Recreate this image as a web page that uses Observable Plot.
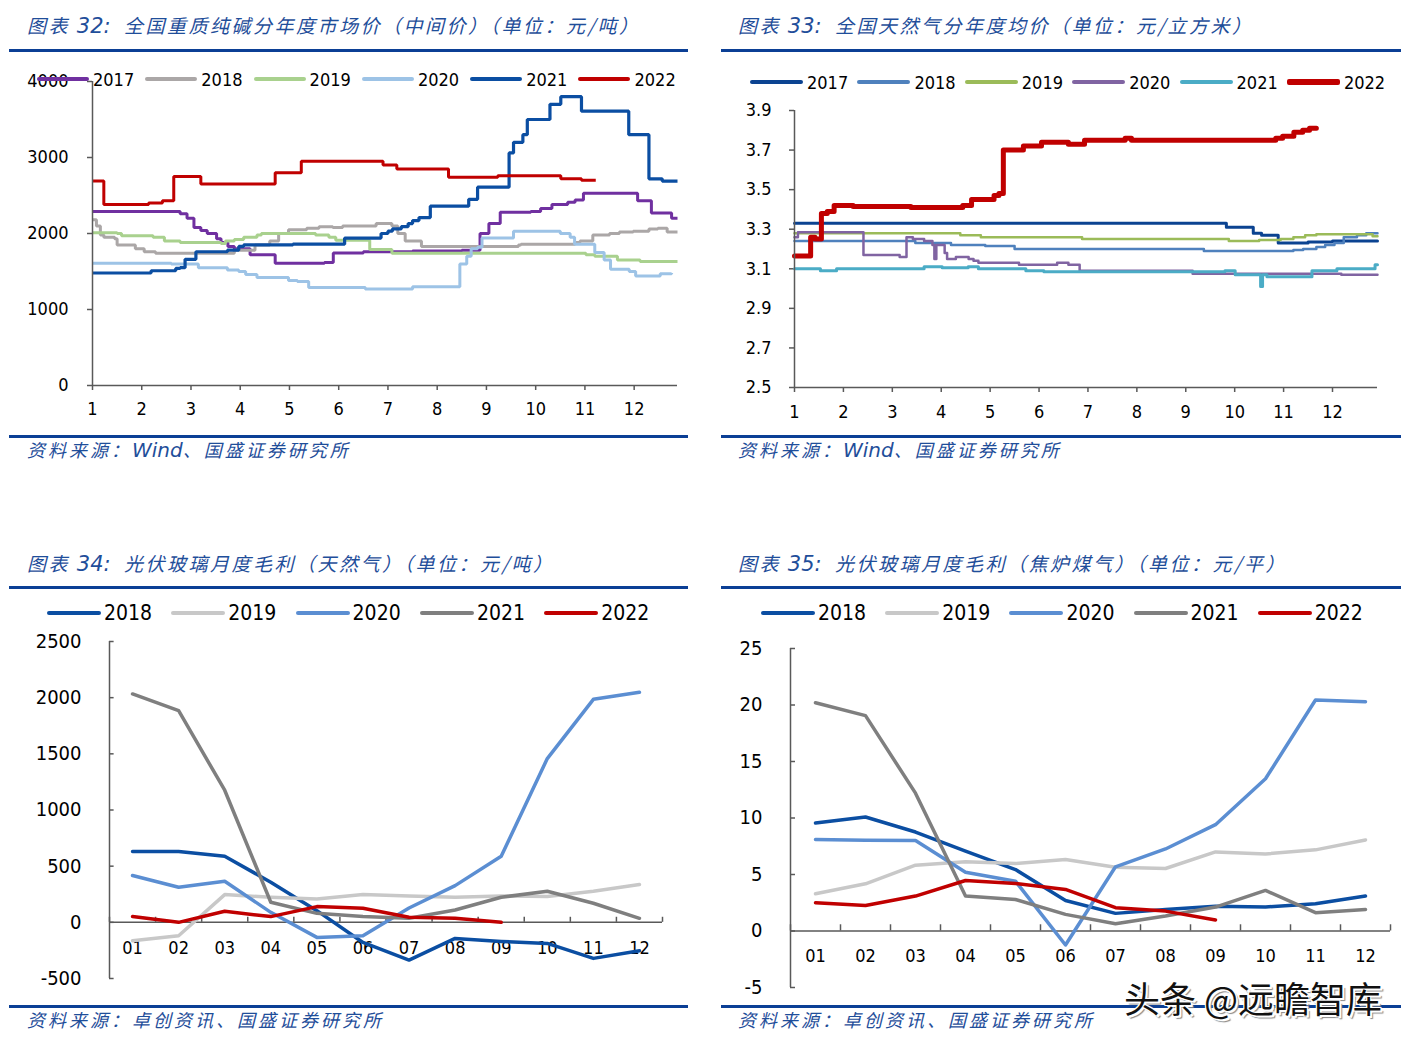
<!DOCTYPE html>
<html>
<head>
<meta charset="utf-8">
<script src="https://cdn.jsdelivr.net/npm/d3@7"></script>
<script src="https://cdn.jsdelivr.net/npm/@observablehq/plot@0.6"></script>
<style>
  body { margin: 0; background: #fff; }
  #page { position: relative; width: 1414px; height: 1045px; overflow: hidden; background: #fff; }
  .title { position: absolute; font-family: "Noto Sans CJK SC", sans-serif; font-style: italic; color: #1F4E9A;
           font-size: 19px; letter-spacing: 2.5px; white-space: pre; line-height: 1; }
  .title .num { font-family: "DejaVu Sans", sans-serif; font-size: 21px; letter-spacing: 0; }
  .src { position: absolute; font-family: "Noto Sans CJK SC", sans-serif; font-style: italic; color: #1F4E9A;
         font-size: 18px; letter-spacing: 3px; white-space: pre; line-height: 1; }
  .src .lat { font-family: "DejaVu Sans", sans-serif; font-size: 20px; letter-spacing: 0; }
  .rule { position: absolute; height: 3px; background: #0B3F95; }
  .chart { position: absolute; }
  .chart svg { font-stretch: condensed; }
  .legend { position: absolute; display: flex; align-items: center; white-space: nowrap;
            font-family: "DejaVu Sans Condensed", "Liberation Sans Narrow", "DejaVu Sans", sans-serif; font-stretch: condensed; color: #000; }
  .legend .item { display: flex; align-items: center; }
  .legend .sw { border-radius: 2px; }
  .wm { position: absolute; font-family: "Noto Sans CJK SC", sans-serif; font-size: 36px; color: #111; white-space: nowrap; line-height: 1;
        text-shadow: 2px 2px 0 #fff, -1px -1px 0 #fff, 1px -1px 0 #fff, -1px 1px 0 #fff, 3px 3px 1px #888; }
</style>
</head>
<body>
<div id="page"></div>
<script>
// ---------------- DATA ----------------
// Panel 32: soda ash price (month position, yuan/ton), step series
const sodaYears = ["2017", "2018", "2019", "2020", "2021", "2022"];
const soda2017 = [[1.00,2290],[2.78,2260],[2.92,2200],[3.06,2080],[3.20,2040],[3.33,2000],[3.52,1930],[3.61,1880],[3.75,1830],[3.88,1800],[4.20,1720],[4.71,1610],[5.71,1620],[5.89,1745],[6.50,1760],[7.50,1770],[8.50,1780],[8.87,2000],[9.05,2130],[9.28,2280],[9.90,2290],[10.10,2330],[10.33,2380],[10.65,2410],[10.80,2440],[10.97,2530],[11.89,2530],[12.07,2430],[12.35,2270],[12.76,2200],[12.88,2200]];
const soda2018 = [[1.00,2180],[1.08,2100],[1.16,1980],[1.23,1950],[1.45,1930],[1.50,1850],[1.87,1800],[2.05,1760],[2.28,1740],[3.88,1780],[4.30,1850],[4.60,1900],[4.78,2000],[4.98,2050],[5.35,2070],[5.60,2090],[5.88,2080],[6.08,2100],[6.76,2130],[7.08,2100],[7.20,2000],[7.35,1900],[7.68,1830],[9.65,1850],[9.70,1860],[10.80,1880],[10.90,1900],[11.16,1980],[11.50,2000],[11.70,2020],[11.98,2030],[12.30,2060],[12.48,2070],[12.67,2020],[12.88,2020]];
const soda2019 = [[1.00,2010],[1.50,2000],[1.59,1970],[2.23,1950],[2.46,1900],[2.78,1880],[3.61,1870],[3.70,1900],[3.88,1920],[4.07,1950],[4.34,1980],[4.43,2000],[5.53,1980],[5.80,1950],[5.94,1910],[6.63,1790],[7.08,1740],[11.02,1720],[11.20,1700],[11.66,1650],[12.12,1630],[12.88,1630]];
const soda2020 = [[1.00,1610],[2.60,1600],[3.15,1550],[3.74,1520],[3.97,1500],[4.11,1460],[4.34,1420],[4.98,1380],[5.16,1370],[5.39,1290],[6.54,1270],[7.50,1300],[8.46,1600],[8.60,1700],[8.69,1800],[8.82,1820],[8.91,1940],[9.55,2030],[10.50,2000],[10.70,1950],[10.79,1860],[11.20,1750],[11.39,1650],[11.52,1530],[11.90,1500],[12.03,1440],[12.53,1470],[12.76,1480]];
const soda2021 = [[1.00,1480],[2.19,1510],[2.69,1540],[2.78,1550],[2.88,1660],[3.10,1760],[3.74,1780],[3.97,1830],[4.07,1850],[5.07,1860],[6.12,1940],[6.86,2000],[7.00,2030],[7.09,2060],[7.27,2090],[7.41,2130],[7.50,2170],[7.63,2210],[7.86,2360],[8.64,2450],[8.82,2610],[9.46,3060],[9.55,3200],[9.74,3300],[9.83,3500],[10.29,3700],[10.51,3800],[10.93,3610],[11.89,3300],[12.30,2720],[12.57,2690],[12.88,2690]];
const soda2022 = [[1.00,2690],[1.23,2380],[2.14,2400],[2.42,2430],[2.65,2750],[3.20,2650],[4.71,2800],[5.24,2950],[6.90,2900],[7.18,2850],[8.23,2740],[9.23,2760],[10.51,2720],[10.93,2700],[11.22,2700]];
const sodaTicks = [0, 1000, 2000, 3000, 4000];

// Panel 33: natural gas average price (month position, yuan/m3)
const gasYears = ["2017", "2018", "2019", "2020", "2021", "2022"];
const gas2017 = [[1,3.33],[9.83,3.31],[10.38,3.28],[10.55,3.27],[10.89,3.23],[11.5,3.235],[12.0,3.24],[12.92,3.24]];
const gas2018 = [[1,3.24],[3.47,3.23],[4.2,3.22],[4.9,3.215],[5.5,3.20],[9.37,3.19],[11.2,3.195],[11.4,3.20],[11.67,3.21],[11.85,3.22],[12.04,3.23],[12.23,3.26],[12.5,3.27],[12.69,3.28],[12.92,3.28]];
const gas2019 = [[1,3.28],[4.39,3.27],[4.81,3.26],[6.88,3.25],[9.88,3.24],[10.5,3.245],[10.94,3.25],[11.2,3.26],[11.44,3.27],[11.67,3.275],[12.82,3.265],[12.92,3.265]];
const gas2020 = [[1,3.26],[1.07,3.285],[2.41,3.17],[3.15,3.16],[3.29,3.26],[3.42,3.25],[3.65,3.24],[3.82,3.22],[3.86,3.15],[3.9,3.22],[4.07,3.18],[4.12,3.15],[4.3,3.16],[4.56,3.15],[4.66,3.14],[4.76,3.13],[5.59,3.12],[6.37,3.13],[6.6,3.12],[6.83,3.09],[9.14,3.075],[12.18,3.07],[12.92,3.07]];
const gas2021 = [[1,3.10],[1.53,3.09],[1.86,3.10],[3.65,3.11],[4.02,3.105],[4.55,3.11],[4.76,3.10],[5.73,3.09],[6.1,3.085],[9.8,3.09],[10.01,3.07],[10.53,3.01],[10.57,3.07],[10.66,3.06],[11.58,3.09],[12.09,3.10],[12.87,3.12],[12.92,3.12]];
const gas2022 = [[1,3.165],[1.33,3.26],[1.42,3.25],[1.55,3.38],[1.67,3.39],[1.81,3.42],[2.2,3.415],[3.38,3.41],[4.44,3.42],[4.62,3.45],[5.08,3.47],[5.18,3.48],[5.27,3.70],[5.68,3.72],[6.05,3.74],[6.6,3.73],[6.93,3.75],[7.76,3.76],[7.89,3.75],[10.84,3.76],[10.98,3.77],[11.21,3.79],[11.39,3.80],[11.53,3.81],[11.67,3.81]];
const gasTicks = [2.5, 2.7, 2.9, 3.1, 3.3, 3.5, 3.7, 3.9];

// Month labels
const monthLabels = ["1","2","3","4","5","6","7","8","9","10","11","12"];
const monthCodes = ["01","02","03","04","05","06","07","08","09","10","11","12"];

// Panel 34: PV glass monthly gross profit, natural gas (yuan/ton)
const pvYears = ["2018", "2019", "2020", "2021", "2022"];
const ng2018 = [631,631,589,357,104,-179,-336,-143,-170,-188,-321,-253];
const ng2019 = [-164,-119,247,223,208,247,235,223,235,229,277,336];
const ng2020 = [417,312,366,89,-134,-119,128,327,589,1458,1985,2048];
const ng2021 = [2033,1884,1176,179,80,51,36,110,223,277,170,36];
const ng2022 = [51,0,98,51,140,125,45,36,0];
const ngTicks = [-500, 0, 500, 1000, 1500, 2000, 2500];

// Panel 35: PV glass monthly gross profit, coke oven gas (yuan/m2)
const cg2018 = [9.56,10.09,8.76,7.06,5.44,2.7,1.56,1.91,2.2,2.12,2.41,3.09];
const cg2019 = [3.29,4.18,5.82,6.12,5.97,6.32,5.65,5.53,7.0,6.82,7.18,8.06];
const cg2020 = [8.09,8.03,8.0,5.2,4.41,-1.24,5.68,7.26,9.41,13.47,20.44,20.29];
const cg2021 = [20.2,19.06,12.2,3.09,2.79,1.47,0.65,1.32,2.12,3.59,1.62,1.91];
const cg2022 = [2.5,2.26,3.09,4.47,4.21,3.68,2.06,1.76,0.97];
const cgTicks = [-5, 0, 5, 10, 15, 20, 25];

// ---------------- STYLES ----------------
const sodaColors = ["#7030A0", "#ABA7A7", "#A9D18E", "#9DC3E6", "#0B4EA2", "#C00000"];
const sodaWidths = [3, 3, 3, 3, 3.2, 3];
const gasColors = ["#0B4391", "#4F81BD", "#9BBB59", "#8064A2", "#4BACC6", "#C00000"];
const gasWidths = [3, 2.5, 2.5, 2.5, 3, 5];
const pvColors = ["#0B4EA2", "#C8C8C8", "#5B8ED2", "#7F7F7F", "#C00000"];

const tickFont = `"DejaVu Sans Condensed","Liberation Sans Narrow","DejaVu Sans",sans-serif`;
const axisColor = "#595959";
const page = document.getElementById("page");

function addDiv(cls, text, css) {
  const d = document.createElement("div");
  d.className = cls;
  if (text != null) d.textContent = text;
  Object.assign(d.style, css);
  page.appendChild(d);
  return d;
}
function addRich(cls, parts, css) {
  const d = addDiv(cls, null, css);
  parts.forEach(([t, c]) => {
    const s = document.createElement("span");
    if (c) s.className = c;
    s.textContent = t;
    d.appendChild(s);
  });
  return d;
}
function addLegend(left, centerY, names, colors, itemW, swW, swH, gap, fontSize, thick) {
  const lg = addDiv("legend", null, { left: left + "px", top: (centerY - 14) + "px", height: "28px", fontSize: fontSize + "px" });
  names.forEach((n, i) => {
    const it = document.createElement("div");
    it.className = "item";
    it.style.width = itemW + "px";
    const sw = document.createElement("div");
    sw.className = "sw";
    const h = thick && thick[i] ? thick[i] : swH;
    Object.assign(sw.style, { width: swW + "px", height: h + "px", background: colors[i], marginRight: gap + "px" });
    const tx = document.createElement("span");
    tx.textContent = n;
    it.appendChild(sw); it.appendChild(tx);
    lg.appendChild(it);
  });
}
function addChart(left, top, svg) {
  const c = addDiv("chart", null, { left: left + "px", top: top + "px" });
  c.appendChild(svg);
}

// ---------------- TITLES, RULES, SOURCES ----------------
addRich("title", [["图表 "], ["32:", "num"], ["  全国重质纯碱分年度市场价（中间价）（单位：元/吨）"]], { left: "27px", top: "15px" });
addRich("title", [["图表 "], ["33:", "num"], ["  全国天然气分年度均价（单位：元/立方米）"]], { left: "738px", top: "15px" });
addRich("title", [["图表 "], ["34:", "num"], ["  光伏玻璃月度毛利（天然气）（单位：元/吨）"]], { left: "27px", top: "553px" });
addRich("title", [["图表 "], ["35:", "num"], ["  光伏玻璃月度毛利（焦炉煤气）（单位：元/平）"]], { left: "738px", top: "553px" });

addDiv("rule", null, { left: "9px", width: "679px", top: "49px" });
addDiv("rule", null, { left: "721px", width: "680px", top: "49px" });
addDiv("rule", null, { left: "9px", width: "679px", top: "435px" });
addDiv("rule", null, { left: "721px", width: "680px", top: "435px" });
addDiv("rule", null, { left: "9px", width: "679px", top: "586px" });
addDiv("rule", null, { left: "721px", width: "680px", top: "586px" });
addDiv("rule", null, { left: "9px", width: "679px", top: "1005px" });
addDiv("rule", null, { left: "721px", width: "680px", top: "1005px" });

addRich("src", [["资料来源："], ["Wind", "lat"], ["、国盛证券研究所"]], { left: "27px", top: "440px" });
addRich("src", [["资料来源："], ["Wind", "lat"], ["、国盛证券研究所"]], { left: "738px", top: "440px" });
addRich("src", [["资料来源：卓创资讯、国盛证券研究所"]], { left: "27px", top: "1010px" });
addRich("src", [["资料来源：卓创资讯、国盛证券研究所"]], { left: "738px", top: "1010px" });

// ---------------- PANEL 32 ----------------
const sodaSeries = [soda2017, soda2018, soda2019, soda2020, soda2021, soda2022];
addChart(0, 60, Plot.plot({
  width: 700, height: 370, marginLeft: 92, marginRight: 23, marginTop: 21, marginBottom: 45,
  x: { domain: [1, 12.88] },
  y: { domain: [0, 4000] },
  style: { fontFamily: tickFont, fontSize: "18px", color: "#000", background: "none", overflow: "visible" },
  marks: [
    Plot.axisY({ ticks: sodaTicks, tickSize: 5, tickPadding: 19, tickFormat: d => String(d), label: null, stroke: axisColor, strokeWidth: 1.5 }),
    Plot.axisX({ ticks: d3.range(1, 13), tickSize: 5, tickPadding: 12, tickFormat: d => monthLabels[d - 1], label: null, stroke: axisColor, strokeWidth: 1.5 }),
    ...sodaSeries.map((s, i) => Plot.line(s, { x: d => d[0], y: d => d[1], curve: "step-after", stroke: sodaColors[i], strokeWidth: sodaWidths[i], strokeLinejoin: "miter", strokeLinecap: "butt" })),
    Plot.ruleX([1], { stroke: axisColor, strokeWidth: 1.5 }),
    Plot.ruleY([0], { stroke: axisColor, strokeWidth: 1.5 })
  ]
}));

// ---------------- PANEL 33 ----------------
const gasSeries = [gas2017, gas2018, gas2019, gas2020, gas2021, gas2022];
addChart(707, 60, Plot.plot({
  width: 700, height: 370, marginLeft: 87, marginRight: 30, marginTop: 50, marginBottom: 43,
  x: { domain: [1, 12.92] },
  y: { domain: [2.5, 3.9] },
  style: { fontFamily: tickFont, fontSize: "18px", color: "#000", background: "none", overflow: "visible" },
  marks: [
    Plot.axisY({ ticks: gasTicks, tickSize: 5, tickPadding: 18, tickFormat: d3.format(".1f"), label: null, stroke: axisColor, strokeWidth: 1.5 }),
    Plot.axisX({ ticks: d3.range(1, 13), tickSize: 5, tickPadding: 13, tickFormat: d => monthLabels[d - 1], label: null, stroke: axisColor, strokeWidth: 1.5 }),
    ...gasSeries.map((s, i) => Plot.line(s, { x: d => d[0], y: d => d[1], curve: "step-after", stroke: gasColors[i], strokeWidth: gasWidths[i], strokeLinejoin: "round", strokeLinecap: "round" })),
    Plot.ruleX([1], { stroke: axisColor, strokeWidth: 1.5 }),
    Plot.ruleY([2.5], { stroke: axisColor, strokeWidth: 1.5 })
  ]
}));

// ---------------- PANELS 34 / 35 ----------------
function monthlyPlot({ series, yDomain, yTicks, ml, mr, mt, mb, h, tickLen, labelDy, yPad }) {
  return Plot.plot({
    width: 700, height: h, marginLeft: ml, marginRight: mr, marginTop: mt, marginBottom: mb,
    x: { domain: [0.5, 12.5] },
    y: { domain: yDomain },
    style: { fontFamily: tickFont, fontSize: "20px", color: "#000", background: "none", overflow: "visible" },
    marks: [
      Plot.axisY({ ticks: yTicks, tickSize: 0, tickPadding: yPad, tickFormat: d => String(d), label: null }),
      Plot.axisX({ ticks: d3.range(1, 13), tickSize: 0, tickPadding: 0, dy: labelDy, fontSize: 18, tickFormat: d => monthCodes[d - 1], label: null }),
      Plot.ruleY(yTicks, { x1: 0.5, x2: 0.6, stroke: axisColor, strokeWidth: 1.5 }),
      Plot.ruleX(d3.range(0.5, 13, 1), { y1: 0, y2: tickLen, stroke: axisColor, strokeWidth: 1.5 }),
      Plot.ruleY([0], { stroke: axisColor, strokeWidth: 1.5 }),
      Plot.ruleX([0.5], { stroke: axisColor, strokeWidth: 1.5 }),
      ...series.map((s, i) => Plot.line(s, { x: (d, j) => j + 1, y: d => d, stroke: pvColors[i], strokeWidth: 3.5, strokeLinejoin: "round", strokeLinecap: "round" }))
    ]
  });
}
addChart(0, 620, monthlyPlot({
  series: [ng2018, ng2019, ng2020, ng2021, ng2022], yDomain: [-500, 2500], yTicks: ngTicks,
  ml: 109, mr: 38, mt: 21, mb: 22, h: 380, tickLen: 45, labelDy: -37, yPad: 28
}));
addChart(707, 620, monthlyPlot({
  series: [cg2018, cg2019, cg2020, cg2021, cg2022], yDomain: [-5, 25], yTicks: cgTicks,
  ml: 83, mr: 17, mt: 28, mb: 13, h: 380, tickLen: 0.55, labelDy: -38, yPad: 28
}));

// ---------------- LEGENDS ----------------
addLegend(37, 79, sodaYears, sodaColors, 108.3, 52, 4, 4, 18);
addLegend(750, 82, gasYears, gasColors, 107.4, 53, 4, 4, 18, [4, 4, 4, 4, 4, 6]);
addLegend(47, 613, pvYears, pvColors, 124.3, 54, 4, 3, 21);
addLegend(761, 613, pvYears, pvColors, 124.2, 54, 4, 3, 21);

// watermark
addDiv("wm", "头条 @远瞻智库", { left: "1124px", top: "979px" });
</script>
</body>
</html>
